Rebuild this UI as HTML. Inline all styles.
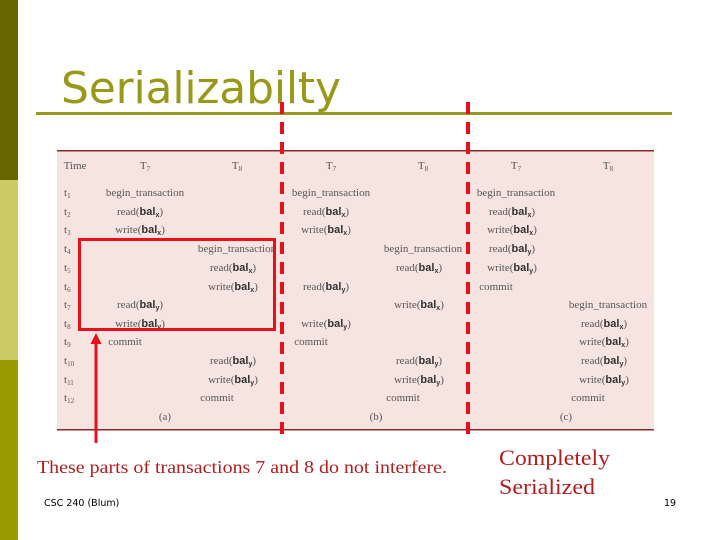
<!DOCTYPE html>
<html><head><style>
html,body{margin:0;padding:0;background:#fff;}
body{width:720px;height:540px;position:relative;overflow:hidden;}
svg{position:absolute;left:0;top:0;}
.c{font-family:"Liberation Serif",serif;font-size:11px;fill:#555;}
.b{font-family:"Liberation Sans",sans-serif;font-weight:bold;fill:#333;}
</style></head><body>
<svg width="720" height="540" viewBox="0 0 720 540">
<rect x="0" y="0" width="18" height="180" fill="#666600"/>
<rect x="0" y="180" width="18" height="180" fill="#cccc66"/>
<rect x="0" y="360" width="18" height="180" fill="#999900"/>
<text x="61" y="103" font-family="DejaVu Sans, sans-serif" font-size="44" fill="#999919" textLength="280">Serializabilty</text>
<rect x="36" y="112" width="636" height="3" fill="#999922"/>
<rect x="57" y="150" width="597" height="280" fill="#f6e4e1"/>
<rect x="57" y="150" width="597" height="1.5" fill="#8b2a2a"/>
<rect x="57" y="429" width="597" height="1.5" fill="#8b2a2a"/>
<g class="c" text-anchor="middle">
<text x="75" y="169">Time</text>
<text x="145" y="169">T<tspan font-size="7" dy="2">7</tspan></text>
<text x="237" y="169">T<tspan font-size="7" dy="2">8</tspan></text>
<text x="331" y="169">T<tspan font-size="7" dy="2">7</tspan></text>
<text x="423" y="169">T<tspan font-size="7" dy="2">8</tspan></text>
<text x="516" y="169">T<tspan font-size="7" dy="2">7</tspan></text>
<text x="608" y="169">T<tspan font-size="7" dy="2">8</tspan></text>
</g>
<g class="c">
<text x="64" y="196">t<tspan font-size="7" dy="2">1</tspan></text>
<text x="64" y="215">t<tspan font-size="7" dy="2">2</tspan></text>
<text x="64" y="233">t<tspan font-size="7" dy="2">3</tspan></text>
<text x="64" y="252">t<tspan font-size="7" dy="2">4</tspan></text>
<text x="64" y="271">t<tspan font-size="7" dy="2">5</tspan></text>
<text x="64" y="290">t<tspan font-size="7" dy="2">6</tspan></text>
<text x="64" y="308">t<tspan font-size="7" dy="2">7</tspan></text>
<text x="64" y="327">t<tspan font-size="7" dy="2">8</tspan></text>
<text x="64" y="345">t<tspan font-size="7" dy="2">9</tspan></text>
<text x="64" y="364">t<tspan font-size="7" dy="2">10</tspan></text>
<text x="64" y="383">t<tspan font-size="7" dy="2">11</tspan></text>
<text x="64" y="401">t<tspan font-size="7" dy="2">12</tspan></text>
</g>
<g class="c" text-anchor="middle">
<text x="145" y="196">begin_transaction</text>
<text x="140" y="215">read(<tspan class="b">bal<tspan font-size="7" dy="2">x</tspan></tspan><tspan dy="-2">)</tspan></text>
<text x="140" y="233">write(<tspan class="b">bal<tspan font-size="7" dy="2">x</tspan></tspan><tspan dy="-2">)</tspan></text>
<text x="237" y="252">begin_transaction</text>
<text x="233" y="271">read(<tspan class="b">bal<tspan font-size="7" dy="2">x</tspan></tspan><tspan dy="-2">)</tspan></text>
<text x="233" y="290">write(<tspan class="b">bal<tspan font-size="7" dy="2">x</tspan></tspan><tspan dy="-2">)</tspan></text>
<text x="140" y="308">read(<tspan class="b">bal<tspan font-size="7" dy="2">y</tspan></tspan><tspan dy="-2">)</tspan></text>
<text x="140" y="327">write(<tspan class="b">bal<tspan font-size="7" dy="2">y</tspan></tspan><tspan dy="-2">)</tspan></text>
<text x="125" y="345">commit</text>
<text x="233" y="364">read(<tspan class="b">bal<tspan font-size="7" dy="2">y</tspan></tspan><tspan dy="-2">)</tspan></text>
<text x="233" y="383">write(<tspan class="b">bal<tspan font-size="7" dy="2">y</tspan></tspan><tspan dy="-2">)</tspan></text>
<text x="217" y="401">commit</text>
<text x="165" y="420">(a)</text>
<text x="331" y="196">begin_transaction</text>
<text x="326" y="215">read(<tspan class="b">bal<tspan font-size="7" dy="2">x</tspan></tspan><tspan dy="-2">)</tspan></text>
<text x="326" y="233">write(<tspan class="b">bal<tspan font-size="7" dy="2">x</tspan></tspan><tspan dy="-2">)</tspan></text>
<text x="423" y="252">begin_transaction</text>
<text x="419" y="271">read(<tspan class="b">bal<tspan font-size="7" dy="2">x</tspan></tspan><tspan dy="-2">)</tspan></text>
<text x="326" y="290">read(<tspan class="b">bal<tspan font-size="7" dy="2">y</tspan></tspan><tspan dy="-2">)</tspan></text>
<text x="419" y="308">write(<tspan class="b">bal<tspan font-size="7" dy="2">x</tspan></tspan><tspan dy="-2">)</tspan></text>
<text x="326" y="327">write(<tspan class="b">bal<tspan font-size="7" dy="2">y</tspan></tspan><tspan dy="-2">)</tspan></text>
<text x="311" y="345">commit</text>
<text x="419" y="364">read(<tspan class="b">bal<tspan font-size="7" dy="2">y</tspan></tspan><tspan dy="-2">)</tspan></text>
<text x="419" y="383">write(<tspan class="b">bal<tspan font-size="7" dy="2">y</tspan></tspan><tspan dy="-2">)</tspan></text>
<text x="403" y="401">commit</text>
<text x="376" y="420">(b)</text>
<text x="516" y="196">begin_transaction</text>
<text x="512" y="215">read(<tspan class="b">bal<tspan font-size="7" dy="2">x</tspan></tspan><tspan dy="-2">)</tspan></text>
<text x="512" y="233">write(<tspan class="b">bal<tspan font-size="7" dy="2">x</tspan></tspan><tspan dy="-2">)</tspan></text>
<text x="512" y="252">read(<tspan class="b">bal<tspan font-size="7" dy="2">y</tspan></tspan><tspan dy="-2">)</tspan></text>
<text x="512" y="271">write(<tspan class="b">bal<tspan font-size="7" dy="2">y</tspan></tspan><tspan dy="-2">)</tspan></text>
<text x="496" y="290">commit</text>
<text x="608" y="308">begin_transaction</text>
<text x="604" y="327">read(<tspan class="b">bal<tspan font-size="7" dy="2">x</tspan></tspan><tspan dy="-2">)</tspan></text>
<text x="604" y="345">write(<tspan class="b">bal<tspan font-size="7" dy="2">x</tspan></tspan><tspan dy="-2">)</tspan></text>
<text x="604" y="364">read(<tspan class="b">bal<tspan font-size="7" dy="2">y</tspan></tspan><tspan dy="-2">)</tspan></text>
<text x="604" y="383">write(<tspan class="b">bal<tspan font-size="7" dy="2">y</tspan></tspan><tspan dy="-2">)</tspan></text>
<text x="588" y="401">commit</text>
<text x="566" y="420">(c)</text>
</g>
<line x1="282" y1="102" x2="282" y2="442" stroke="#e8101a" stroke-width="4" stroke-dasharray="12 8"/>
<line x1="468" y1="102" x2="468" y2="442" stroke="#e8101a" stroke-width="4" stroke-dasharray="12 8"/>
<rect x="79.5" y="239.5" width="195" height="90" fill="none" stroke="#e8101a" stroke-width="3"/>
<line x1="96" y1="343" x2="96" y2="443" stroke="#e8101a" stroke-width="3"/>
<polygon points="96,333 90.5,344 101.5,344" fill="#e8101a"/>
<text x="37" y="473" font-family="Liberation Serif, serif" font-size="18" fill="#b01e1e" textLength="410" lengthAdjust="spacingAndGlyphs">These parts of transactions 7 and 8 do not interfere.</text>
<text x="499" y="465" font-family="Liberation Serif, serif" font-size="22" fill="#b01e1e" textLength="111" lengthAdjust="spacingAndGlyphs">Completely</text>
<text x="499" y="494" font-family="Liberation Serif, serif" font-size="22" fill="#b01e1e" textLength="96" lengthAdjust="spacingAndGlyphs">Serialized</text>
<text x="44" y="506" font-family="DejaVu Sans, sans-serif" font-size="9.5" fill="#000">CSC 240 (Blum)</text>
<text x="664" y="506" font-family="DejaVu Sans, sans-serif" font-size="9.5" fill="#000">19</text>
</svg>
</body></html>
